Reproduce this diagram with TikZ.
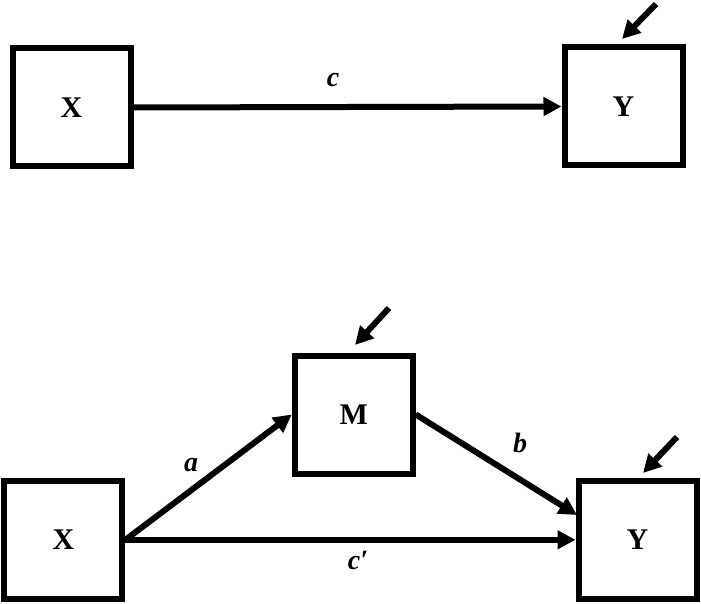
\documentclass[tikz,border=0pt]{standalone}
\usepackage{fontspec}
\setmainfont{Liberation Serif}
\usetikzlibrary{arrows.meta}
\begin{document}
\begin{tikzpicture}[x=1pt,y=-1pt,
  var/.style={draw, line width=6pt, minimum width=118pt, minimum height=118pt, inner sep=0pt,
    font=\fontsize{30}{32}\selectfont\bfseries},
  path/.style={line width=6pt, -{Triangle[length=18pt,width=18pt]}},
  lab/.style={font=\fontsize{28}{30}\selectfont\bfseries\itshape, inner sep=0pt}]
\useasboundingbox (0,0) rectangle (701,604);
% top model
\node[var] (Xt) at (71.5,107.5) {X};
\node[var] (Yt) at (623.5,106.5) {Y};
\draw[path] (Xt.east) -- (Yt.west);
\node[lab] (lc) at (333,80) {c};
\coordinate (et) at (656,4);
\coordinate (etip) at (622,39);
\draw[path] (et) -- (etip);
% bottom model
\node[var] (M) at (353.7,414.5) {M};
\node[var] (Xb) at (63.4,539.8) {X};
\node[var] (Yb) at (637.5,539.8) {Y};
\coordinate (ybin) at (577,515);
\draw[path] (Xb.east) -- (M.west);
\draw[path] (M.east) -- (ybin);
\draw[path] (Xb.east) -- (Yb.west);
\node[lab] (la) at (191,465) {a};
\node[lab] (lb) at (520,443) {b};
\node[lab] (lcp) at (358,560) {c′};
\coordinate (em) at (389,308);
\coordinate (emtip) at (355,345);
\draw[path] (em) -- (emtip);
\coordinate (ey) at (677,437);
\coordinate (eytip) at (643,473);
\draw[path] (ey) -- (eytip);
\end{tikzpicture}
\end{document}
